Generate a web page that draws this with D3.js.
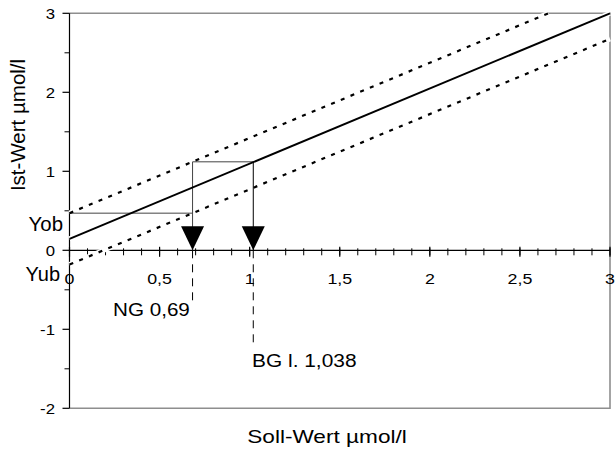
<!DOCTYPE html>
<html><head><meta charset="utf-8">
<script src="https://cdn.jsdelivr.net/npm/d3@7"></script>
<style>body{margin:0;background:#fff}svg{display:block}text{font-family:"Liberation Sans",Arial,sans-serif;fill:#000}</style>
</head><body>
<svg id="c" width="615" height="451"></svg>
<script>
// ---- data ----
const xMajorTicks = [0, 0.5, 1, 1.5, 2, 2.5, 3];
const xTickLabels = ["0", "0,5", "1", "1,5", "2", "2,5", "3"];
const xMinorTicks = d3.range(0, 3.001, 0.1);
const yMajorTicks = [-2, -1, 0, 1, 2, 3];
const yTickLabels = ["-2", "-1", "0", "1", "2", "3"];
const yMinorTicks = [-1.5, -0.5, 0.5, 1.5, 2.5];
// calibration line and confidence band
const calX = [0, 3], calY = [0.145, 3.0];
const upperX = [0, 2.658], upperY = [0.47, 3.0];
const lowerX = [0, 3], lowerY = [-0.18, 2.676];
// construction
const yob = 0.47, yub = -0.18;
const ngX = 0.683, bgX = 1.02, topY = 1.12;
const ngDashEnd = -0.66, bgDashEnd = -1.2;
const ngLabel = "NG 0,69", bgLabel = "BG l. 1,038";
const xTitle = "Soll-Wert µmol/l", yTitle = "Ist-Wert µmol/l";

const svg = d3.select("#c");
const x = d3.scaleLinear().domain([0, 3]).range([69.5, 610]);
const y = d3.scaleLinear().domain([-2, 3]).range([408.3, 13.3]);
const line = d3.line().x(d => x(d[0])).y(d => y(d[1]));

function txt(s, px, py, size, sx, anchor, rot) {
  const t = svg.append("text").text(s).attr("font-size", size).attr("text-anchor", anchor || "start");
  t.attr("transform", `translate(${px},${py})` + (rot ? ` rotate(${rot})` : "") + ` scale(${sx},1)`);
  return t;
}

// frame (gray)
const gray = "#8e8e8e";
svg.append("path").attr("d", line([[0,3],[3,3],[3,-2],[0,-2]])).attr("fill", "none").attr("stroke", gray).attr("stroke-width", 1.6);

// x axis at y=0
const xAxis = svg.append("g").attr("transform", `translate(0,${y(0)})`);
xAxis.append("line").attr("x1", x(0)).attr("x2", x(3)).attr("stroke", "#000").attr("stroke-width", 1.2);
xAxis.selectAll(".mn").data(xMinorTicks).join("line").attr("x1", d => x(d)).attr("x2", d => x(d)).attr("y1", -2).attr("y2", 5).attr("stroke", "#000");
xAxis.selectAll(".mj").data(xMajorTicks).join("line").attr("x1", d => x(d)).attr("x2", d => x(d)).attr("y1", -3.5).attr("y2", 6.5).attr("stroke", "#000").attr("stroke-width", 1.2);

// y axis
const yAxis = svg.append("g").attr("transform", `translate(${x(0)},0)`);
yAxis.append("line").attr("y1", y(3)).attr("y2", y(-2)).attr("stroke", "#000").attr("stroke-width", 1.2);
yAxis.selectAll(".mj").data(yMajorTicks).join("line").attr("y1", d => y(d)).attr("y2", d => y(d)).attr("x1", -7).attr("x2", 0).attr("stroke", "#000").attr("stroke-width", 1.2);
yAxis.selectAll(".mn").data(yMinorTicks).join("line").attr("y1", d => y(d)).attr("y2", d => y(d)).attr("x1", -5).attr("x2", 0).attr("stroke", "#000");

// white underlays (gaps where lines cross frame/axis)
const toPts = (xs, ys) => xs.map((v, i) => [v, ys[i]]);
const calPts = toPts(calX, calY), upPts = toPts(upperX, upperY), loPts = toPts(lowerX, lowerY);
[calPts, upPts, loPts].forEach(p => svg.append("path").attr("d", line(p)).attr("fill", "none").attr("stroke", "#fff").attr("stroke-width", 5));

// construction lines
const cstroke = "#444";
svg.append("path").attr("d", line([[0, yob], [ngX, yob]])).attr("fill", "none").attr("stroke", cstroke).attr("stroke-width", 1);
svg.append("path").attr("d", line([[ngX, topY], [ngX, 0]])).attr("fill", "none").attr("stroke", cstroke).attr("stroke-width", 1);
svg.append("path").attr("d", line([[ngX, topY], [bgX, topY]])).attr("fill", "none").attr("stroke", cstroke).attr("stroke-width", 1);
svg.append("path").attr("d", line([[bgX, topY], [bgX, 0]])).attr("fill", "none").attr("stroke", "#000").attr("stroke-width", 1);
// dashed drops
[[ngX, ngDashEnd], [bgX, bgDashEnd]].forEach(([vx, ve]) =>
  svg.append("path").attr("d", line([[vx, 0], [vx, ve]])).attr("fill", "none").attr("stroke", "#000").attr("stroke-width", 1).attr("stroke-dasharray", "8,6"));

// main lines
svg.append("path").attr("d", line(calPts)).attr("fill", "none").attr("stroke", "#000").attr("stroke-width", 2);
[upPts, loPts].forEach(p => svg.append("path").attr("d", line(p)).attr("fill", "none").attr("stroke", "#000").attr("stroke-width", 2.2).attr("stroke-dasharray", "4,6.5"));

// arrows
[ngX, bgX].forEach(v => {
  const tx = x(v), ty = y(0);
  svg.append("path").attr("d", `M${tx},${ty} L${tx - 11.5},${ty - 24} L${tx + 11.5},${ty - 24} Z`).attr("fill", "#000");
});

// tick labels
xMajorTicks.forEach((v, i) => txt(xTickLabels[i], x(v), 284, 15.5, 1.15, "middle"));
yMajorTicks.forEach((v, i) => txt(yTickLabels[i], 55, y(v) + 5.5, 15.5, 1.08, "end"));

// annotations
txt("Yob", 63, 230.5, 20, 1.02, "end");
txt("Yub", 60, 281, 20, 1.0, "end");
txt(ngLabel, 113, 315.5, 17.5, 1.18, "start");
txt(bgLabel, 252, 366.5, 19, 1.1, "start");

// axis titles
txt(xTitle, 327, 443, 19, 1.19, "middle");
txt(yTitle, 25, 125, 20.5, 1.0, "middle", -90);
</script>
</body></html>
